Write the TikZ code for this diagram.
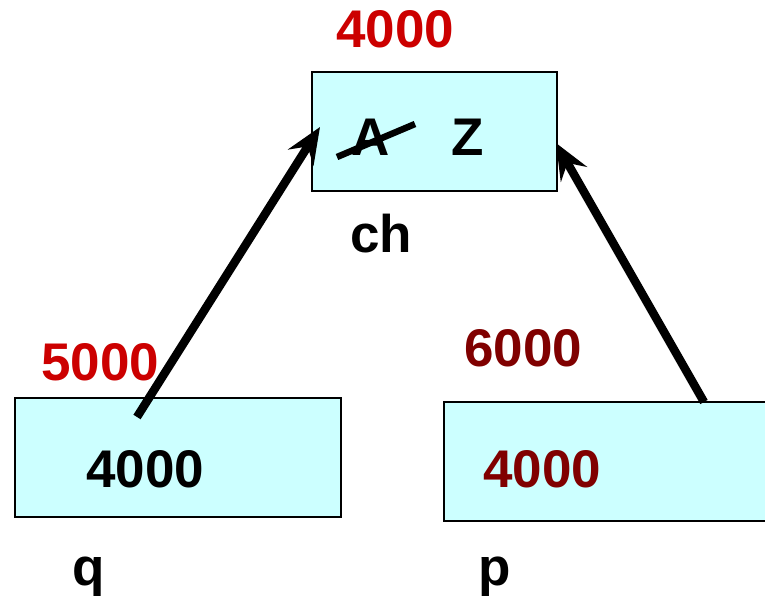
\documentclass[tikz,border=0pt]{standalone}
\usepackage{fontspec}
\setmainfont{Liberation Sans}
\usetikzlibrary{arrows.meta}
\definecolor{cellfill}{HTML}{CCFFFF}
\definecolor{addrred}{HTML}{CC0000}
\definecolor{addrdark}{HTML}{800000}
\tikzset{
  cell/.style={draw=black, line width=2pt, fill=cellfill, inner sep=0pt},
  big/.style={font=\fontsize{53}{62}\selectfont\bfseries, inner sep=0pt, anchor=base west},
  ptr/.style={line width=8.5pt, -{Stealth[length=36pt,width=30pt,inset=13pt]}}
}
\begin{document}
\begin{tikzpicture}[x=1pt,y=-1pt]
\useasboundingbox (0,0) rectangle (765,602);
\clip (0,0) rectangle (765,602);
% boxes
\node[cell, minimum width=245pt, minimum height=119pt] (chbox) at (434.5,131.5) {};
\node[cell, minimum width=326pt, minimum height=119pt] (qbox) at (178,457.5) {};
\node[cell, minimum width=360pt, minimum height=119pt] (pbox) at (624,461.5) {};
% contents
\node[big] (chA) at (351,155) {A};
\node[big] (chZ) at (451,155) {Z};
\draw[line width=6.5pt] (337,157) -- (415,124);
\node[big] (qval) at (86,487) {4000};
\node[big, addrdark] (pval) at (483,487) {4000};
% addresses and names
\node[big, addrred] (chaddr) at (336,48) {4000};
\node[big] (chname) at (350,252) {ch};
\node[big, addrred] (qaddr) at (41,380) {5000};
\node[big] (qname) at (72,585) {q};
\node[big, addrdark] (paddr) at (464,366) {6000};
\node[big] (pname) at (478,585) {p};
% pointers
\coordinate (qtail) at (137,417);
\coordinate (qtip) at (320,127);
\coordinate (ptail) at (704,402);
\coordinate (ptip) at (556,143);
\draw[ptr] (qtail) -- (qtip);
\draw[ptr] (ptail) -- (ptip);
\end{tikzpicture}
\end{document}
